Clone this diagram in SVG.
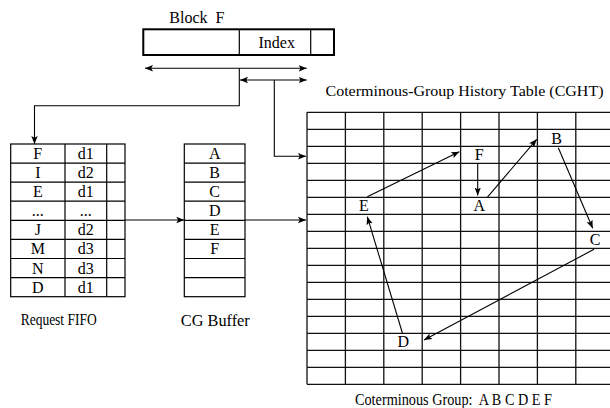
<svg xmlns="http://www.w3.org/2000/svg" width="610" height="408" viewBox="0 0 610 408">
<style>
.c{text-anchor:middle}
.pre{white-space:pre}
.cell{fill:none;stroke:#000;stroke-width:1.2}
.grid{stroke:#111;stroke-width:1.3;fill:none}
.con{fill:none;stroke:#000;stroke-width:1.1}
.lbl{font-size:17px}
</style>
<defs>
<marker id="ah" markerUnits="userSpaceOnUse" markerWidth="9" markerHeight="8" refX="8" refY="4" orient="auto-start-reverse">
<path d="M0,0.8 L8,4 L0,7.2 L1.8,4 Z" fill="#000"/>
</marker>
</defs>
<g font-family="Liberation Serif, DejaVu Serif, Times New Roman, serif" font-size="16" fill="#000">

<g id="block-f">
<text x="169.3" y="23.3" class="pre">Block  F</text>
<rect x="143.3" y="29.3" width="190.7" height="25.7" fill="#fff" stroke="#000" stroke-width="2"/>
<line x1="239.3" y1="29.3" x2="239.3" y2="55" stroke="#000" stroke-width="1.2"/>
<line x1="310.7" y1="29.3" x2="310.7" y2="55" stroke="#000" stroke-width="1.2"/>
<text x="276.7" y="47.5" class="c">Index</text>
</g>

<g id="request-fifo">
<rect class="cell" x="10.7" y="144" width="114.3" height="152.7"/>
<path class="cell" d="M65,144V296.7M106.7,144V296.7M10.7,163.1H125M10.7,182.2H125M10.7,201.2H125M10.7,220.3H125M10.7,239.4H125M10.7,258.5H125M10.7,277.6H125"/>
<g class="c">
<text x="37.8" y="159">F</text><text x="85.8" y="159">d1</text>
<text x="37.8" y="178">I</text><text x="85.8" y="178">d2</text>
<text x="37.8" y="197.2">E</text><text x="85.8" y="197.2">d1</text>
<text x="37.8" y="216">...</text><text x="85.8" y="216">...</text>
<text x="37.8" y="235.3">J</text><text x="85.8" y="235.3">d2</text>
<text x="37.8" y="254.4">M</text><text x="85.8" y="254.4">d3</text>
<text x="37.8" y="273.5">N</text><text x="85.8" y="273.5">d3</text>
<text x="37.8" y="292.6">D</text><text x="85.8" y="292.6">d1</text>
</g>
<text x="20.7" y="324.5" class="lbl" textLength="76" lengthAdjust="spacingAndGlyphs">Request FIFO</text>
</g>

<g id="cg-buffer">
<rect class="cell" x="184.3" y="144" width="60.7" height="152.7"/>
<path class="cell" d="M184.3,163.1H245M184.3,182.2H245M184.3,201.2H245M184.3,220.3H245M184.3,239.4H245M184.3,258.5H245M184.3,277.6H245"/>
<g class="c">
<text x="214.7" y="159">A</text>
<text x="214.7" y="178">B</text>
<text x="214.7" y="197.2">C</text>
<text x="214.7" y="216.2">D</text>
<text x="214.7" y="235.3">E</text>
<text x="214.7" y="254.4">F</text>
</g>
<text x="215.3" y="326" class="c lbl" textLength="69" lengthAdjust="spacingAndGlyphs">CG Buffer</text>
</g>

<g id="cght">
<text x="325.5" y="96" font-size="15.5" textLength="278" lengthAdjust="spacingAndGlyphs">Coterminous-Group History Table (CGHT)</text>
<path class="grid" d="M307,112.3V384.3M345.4,112.3V384.3M383.8,112.3V384.3M422.2,112.3V384.3M460.6,112.3V384.3M499,112.3V384.3M537.4,112.3V384.3M575.8,112.3V384.3
M307,112.3H610M307,129.3H610M307,146.3H610M307,163.3H610M307,180.3H610M307,197.3H610M307,214.3H610M307,231.3H610M307,248.3H610M307,265.3H610M307,282.3H610M307,299.3H610M307,316.3H610M307,333.3H610M307,350.3H610M307,367.3H610M307,384.3H610"/>
<g class="c">
<rect x="358" y="199" width="12" height="13" fill="#fff"/>
<text x="364" y="211">E</text>
<rect x="474" y="148" width="11" height="13" fill="#fff"/>
<text x="479.3" y="160">F</text>
<rect x="473" y="199" width="13" height="13" fill="#fff"/>
<text x="479.3" y="211">A</text>
<rect x="551" y="131" width="12" height="13" fill="#fff"/>
<text x="556.7" y="143.5">B</text>
<rect x="589" y="233" width="12" height="13" fill="#fff"/>
<text x="595" y="245">C</text>
<rect x="397" y="335" width="13" height="13" fill="#fff"/>
<text x="403.3" y="347">D</text>
</g>
<text x="355" y="404.5" class="pre lbl" textLength="197" lengthAdjust="spacingAndGlyphs">Coterminous Group:  A B C D E F</text>
</g>
</g>

<g id="connectors">
<line class="con" x1="145" y1="68.3" x2="306.7" y2="68.3" marker-start="url(#ah)" marker-end="url(#ah)"/>
<line class="con" x1="240" y1="80" x2="306.7" y2="80" marker-start="url(#ah)" marker-end="url(#ah)"/>
<path class="con" d="M239.3,68.3V105.7H34.5V144" marker-end="url(#ah)"/>
<path class="con" d="M274.3,80V156.3H306" marker-end="url(#ah)"/>
<line class="con" x1="125" y1="220" x2="184.3" y2="220" marker-end="url(#ah)"/>
<line class="con" x1="245" y1="220" x2="306" y2="220" marker-end="url(#ah)"/>
<line class="con" x1="367.3" y1="196.7" x2="459.3" y2="151.7" marker-end="url(#ah)"/>
<line class="con" x1="477.7" y1="163.3" x2="477.7" y2="195.5" marker-end="url(#ah)"/>
<line class="con" x1="487.3" y1="197.3" x2="536.7" y2="139.3" marker-end="url(#ah)"/>
<line class="con" x1="558.3" y1="147.7" x2="592.7" y2="228.3" marker-end="url(#ah)"/>
<line class="con" x1="594" y1="249.3" x2="424" y2="340" marker-end="url(#ah)"/>
<line class="con" x1="402.7" y1="334" x2="367.3" y2="216.7" marker-end="url(#ah)"/>
</g>
</svg>
